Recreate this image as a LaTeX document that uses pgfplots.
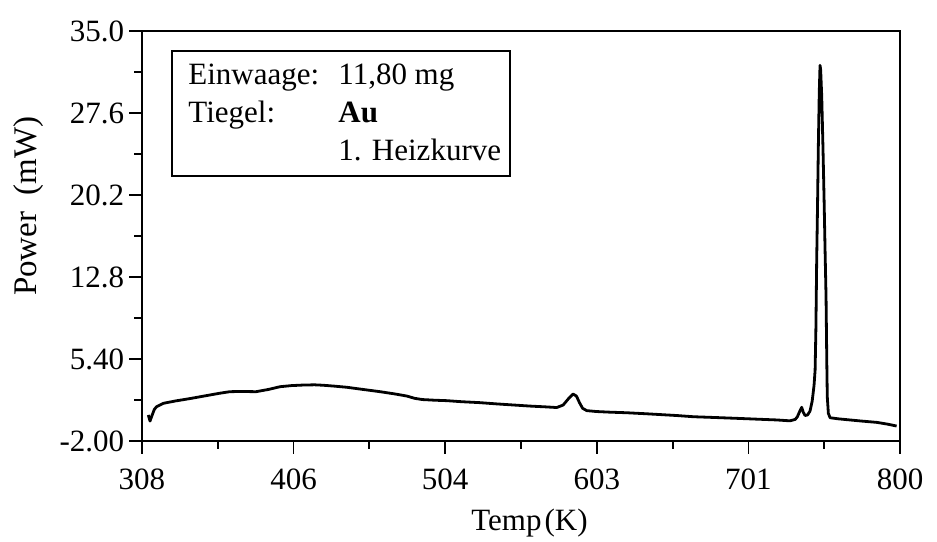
\documentclass[border=0pt]{standalone}
\usepackage{fontspec}
\setmainfont{Liberation Serif}
\usepackage{graphicx}
\usepackage{pgfplots}
\pgfplotsset{compat=1.18}
\pgfplotstableread{
T P
312.1 0.35
313.2 -0.20
314.5 0.30
316.0 0.85
317.5 1.10
321.8 1.40
330 1.62
340 1.85
350 2.10
358 2.30
365 2.45
372 2.47
382 2.45
390 2.65
397.6 2.90
405 3.00
412.7 3.05
420 3.07
425.7 3.03
433 2.95
440.9 2.85
450 2.68
462.5 2.45
472 2.25
479.8 2.06
485 1.85
490 1.74
498 1.68
505.8 1.64
515 1.55
527.4 1.46
538 1.35
549 1.25
560 1.15
570 1.08
577.2 1.02
581.4 1.25
585 1.85
587.8 2.24
590 2.05
592 1.45
594 0.95
596.7 0.74
603 0.66
612 0.60
622.6 0.55
635 0.46
645 0.38
655 0.30
665.9 0.19
680 0.12
695 0.04
709.1 -0.04
720 -0.10
728.6 -0.18
732 -0.05
733.4 0.19
735 0.70
736.2 1.04
737.2 0.60
738.4 0.30
740 0.35
741.6 0.70
743 1.60
744.2 3.00
744.9 4.40
745.4 8.00
745.9 14.0
746.5 19.5
747.0 24.6
747.6 29.5
748.1 31.9
748.5 31.5
749.2 29.1
750.0 24.5
750.7 20.0
751.4 15.0
752.0 11.0
752.5 5.0
752.8 2.0
753.5 0.5
754.6 0.10
760 0.0
767.5 -0.10
775 -0.20
785 -0.32
792 -0.48
797.8 -0.65
}\dsc
\begin{document}
\fontsize{15.5bp}{19bp}\selectfont
\begin{tikzpicture}
\begin{axis}[
 scale only axis, width=379bp, height=205bp,
 xmin=308, xmax=800, ymin=-2, ymax=35,
 xtick={308,406.4,504.8,603.2,701.6,800},
 xticklabels={308,406,504,603,701,800},
 ytick={-2,5.4,12.8,20.2,27.6,35},
 yticklabels={-2.00,5.40,12.8,20.2,27.6,35.0},
 minor x tick num=1, minor y tick num=1,
 tick pos=left, tick align=outside,
 major tick length=6.25bp, minor tick length=3.75bp,
 every tick/.style={black, line width=0.9bp},
 axis line style={line width=1bp},
 tick label style={font=\fontsize{15.5bp}{18bp}\selectfont, inner sep=0pt},
 xticklabel style={anchor=north, yshift=-7.25bp},
 yticklabel style={anchor=east, xshift=-2.5bp},
 xlabel={Temp\kern1.5pt(K)},
 xlabel style={at={(axis description cs:0.5,0)}, anchor=base, xshift=4.25bp, yshift=-44.5bp, font=\fontsize{15.5bp}{18bp}\selectfont},
 ylabel={Power\ \ (mW)},
 ylabel style={at={(axis description cs:0,0.573)}, anchor=center, yshift=56.5bp, font=\fontsize{16.5bp}{18bp}\selectfont},
]
\addplot[black, line width=1.4bp, line join=round, no markers] table[x=T, y=P] {\dsc};
\end{axis}
\draw[line width=0.7bp] ([shift={(15bp,-10bp)}]current axis.north west) rectangle ([shift={(184bp,-72.5bp)}]current axis.north west);
\node[anchor=base west, inner sep=0pt] at ([shift={(23bp,-26.5bp)}]current axis.north west) {Einwaage:};
\node[anchor=base west, inner sep=0pt] at ([shift={(98bp,-26.5bp)}]current axis.north west) {11,80 mg};
\node[anchor=base west, inner sep=0pt] at ([shift={(23bp,-45.5bp)}]current axis.north west) {Tiegel:};
\node[anchor=base west, inner sep=0pt] at ([shift={(98bp,-45.5bp)}]current axis.north west) {\textbf{Au}};
\node[anchor=base west, inner sep=0pt] at ([shift={(98bp,-64.5bp)}]current axis.north west) {1. Heizkurve};
\pgfresetboundingbox
\useasboundingbox ([shift={(-71bp,-50.5bp)}]current axis.south west) rectangle ([shift={(18.5bp,15.5bp)}]current axis.north east);
\end{tikzpicture}
\end{document}
